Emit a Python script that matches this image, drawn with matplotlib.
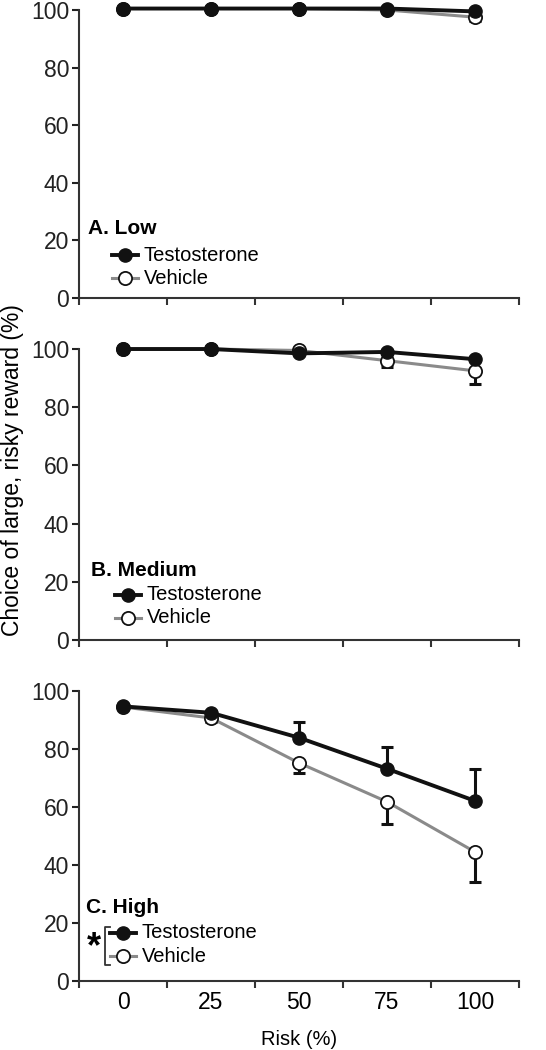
import matplotlib
matplotlib.use("Agg")
import matplotlib.pyplot as plt
import numpy as np

plt.rcParams['font.family'] = ['Liberation Sans', 'DejaVu Sans']

# Datos
risk_labels = ['0', '25', '50', '75', '100']
panel_titles = ['A. Low', 'B. Medium', 'C. High']

low_t = [100.5, 100.5, 100.5, 100.5, 99.5]
low_t_err = [0, 0, 0, 0, 0.5]
low_v = [100.5, 100.5, 100.5, 100.0, 97.5]
low_v_err = [0, 0, 0, 0, 1.5]

med_t = [100, 100, 98.5, 99, 96.5]
med_t_err = [0, 0, 1.0, 0.5, 0.5]
med_v = [100, 100, 99.5, 96, 92.5]
med_v_err = [0, 0, 0.5, 2.3, 4.5]

high_t = [94.7, 92.5, 83.9, 73.2, 62.1]
high_t_err = [0.5, 0.5, 5.4, 7.6, 11.1]
high_v = [94.5, 90.7, 75.2, 61.8, 44.5]
high_v_err = [0.5, 1.5, 3.5, 7.5, 10.2]

series = [(low_t, low_t_err, low_v, low_v_err),
          (med_t, med_t_err, med_v, med_v_err),
          (high_t, high_t_err, high_v, high_v_err)]

fig = plt.figure(figsize=(5.46, 10.5), dpi=100)
left, width = 0.1447, 0.8059
bottoms = [0.7162, 0.3905, 0.0657]
heights = [0.2743, 0.2771, 0.2762]
# posiciones de leyenda (coordenadas de ejes)
leg_pos = [(0.02, 0.24, 0.149, 0.069, 0.075),
           (0.027, 0.24, 0.155, 0.076, 0.082),
           (0.016, 0.255, 0.166, 0.086, 0.07)]

black = '#111111'
gray = '#8a8a8a'
x = np.arange(len(risk_labels))

for i, (t, te, v, ve) in enumerate(series):
    ax = fig.add_axes([left, bottoms[i], width, heights[i]])
    zeros = np.zeros(len(x))
    # barras de error de un solo lado
    ax.errorbar(x, v, yerr=[ve, zeros], fmt='none', ecolor=black,
                elinewidth=2.2, capsize=4, capthick=2.2, zorder=2, clip_on=False)
    ax.errorbar(x, t, yerr=[zeros, te], fmt='none', ecolor=black,
                elinewidth=2.2, capsize=4, capthick=2.2, zorder=2, clip_on=False)
    ax.plot(x, v, '-o', color=gray, lw=2.2, mfc='white', mec=black, mew=1.3,
            ms=9.5, zorder=3, clip_on=False)
    ax.plot(x, t, '-o', color=black, lw=2.8, mfc=black, mec=black,
            ms=9.5, zorder=4, clip_on=False)

    ax.set_xlim(-0.5, 4.5)
    ax.set_ylim(0, 100)
    ax.set_yticks([0, 20, 40, 60, 80, 100])
    ax.set_xticks(np.arange(-0.5, 5, 1))
    ax.set_xticklabels([])
    ax.tick_params(axis='y', direction='out', length=5, width=1.5,
                   labelsize=16.5, colors='#222222', pad=2)
    ax.tick_params(axis='x', direction='out', length=5, width=1.5, colors='#333333')
    for s in ['top', 'right']:
        ax.spines[s].set_visible(False)
    for s in ['left', 'bottom']:
        ax.spines[s].set_linewidth(1.5)
        ax.spines[s].set_color('#333333')

    # leyenda manual
    tx, ty, y1, y2, hx = leg_pos[i]
    ax.text(tx, ty, panel_titles[i], transform=ax.transAxes, fontsize=15,
            fontweight='bold', va='center', ha='left')
    hl = 0.06
    ax.plot([hx, hx + hl], [y1, y1], '-', color=black, lw=2.8, transform=ax.transAxes, clip_on=False)
    ax.plot([hx + hl / 2], [y1], 'o', color=black, ms=9.5, transform=ax.transAxes, clip_on=False)
    ax.plot([hx, hx + hl], [y2, y2], '-', color=gray, lw=2.2, transform=ax.transAxes, clip_on=False)
    ax.plot([hx + hl / 2], [y2], 'o', mfc='white', mec=black, mew=1.3, ms=9.5,
            transform=ax.transAxes, clip_on=False)
    ax.text(hx + hl + 0.012, y1, 'Testosterone', transform=ax.transAxes,
            fontsize=14.5, va='center', ha='left')
    ax.text(hx + hl + 0.012, y2, 'Vehicle', transform=ax.transAxes,
            fontsize=14.5, va='center', ha='left')

    if i == 2:
        # corchete y asterisco de significancia
        bx = 0.059
        ax.plot([bx + 0.012, bx, bx, bx + 0.012], [y1 + 0.02, y1 + 0.02, y2 - 0.03, y2 - 0.03],
                '-', color='#333333', lw=1.3, transform=ax.transAxes, clip_on=False)
        ax.text(0.034, (y1 + y2) / 2 - 0.012, '*', transform=ax.transAxes,
                fontsize=26, fontweight='bold', ha='center', va='center')
        ax.set_xticks(x, minor=True)
        ax.set_xticklabels(risk_labels, minor=True)
        ax.tick_params(axis='x', which='minor', length=0, labelsize=16.5, pad=7)
        ax.set_xlabel('Risk (%)', fontsize=14.5, labelpad=12)

fig.text(0.022, 0.552, 'Choice of large, risky reward (%)', rotation=90,
         fontsize=16.5, ha='center', va='center')

fig.savefig('out.png', dpi=100)
